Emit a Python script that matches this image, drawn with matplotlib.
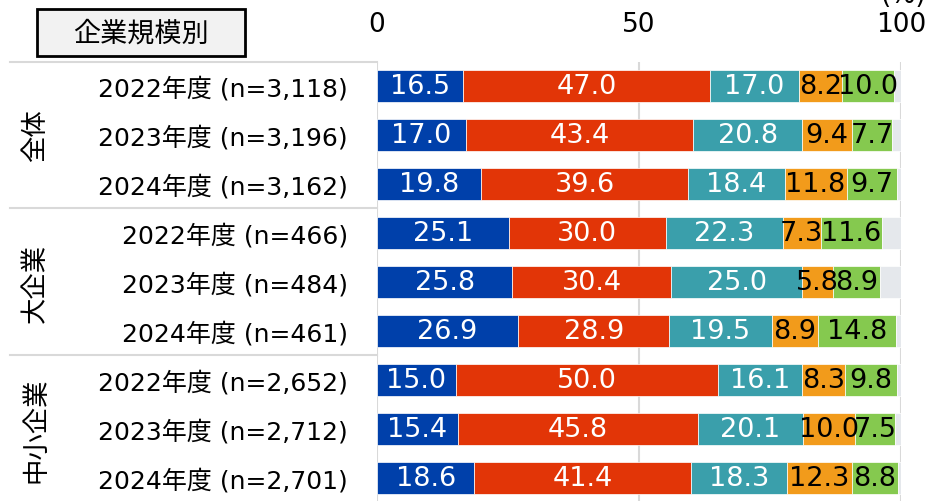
import matplotlib
matplotlib.use("Agg")
import matplotlib.pyplot as plt
from matplotlib.patches import Rectangle
from matplotlib.transforms import blended_transform_factory

plt.rcParams['font.family'] = ['DejaVu Sans', 'Noto Sans CJK JP']

# ---- data ----
groups = ["全体", "大企業", "中小企業"]
row_labels = [
    "2022年度 (n=3,118)", "2023年度 (n=3,196)", "2024年度 (n=3,162)",
    "2022年度 (n=466)", "2023年度 (n=484)", "2024年度 (n=461)",
    "2022年度 (n=2,652)", "2023年度 (n=2,712)", "2024年度 (n=2,701)",
]
seg1 = [16.5, 17.0, 19.8, 25.1, 25.8, 26.9, 15.0, 15.4, 18.6]
seg2 = [47.0, 43.4, 39.6, 30.0, 30.4, 28.9, 50.0, 45.8, 41.4]
seg3 = [17.0, 20.8, 18.4, 22.3, 25.0, 19.5, 16.1, 20.1, 18.3]
seg4 = [8.2, 9.4, 11.8, 7.3, 5.8, 8.9, 8.3, 10.0, 12.3]
seg5 = [10.0, 7.7, 9.7, 11.6, 8.9, 14.8, 9.8, 7.5, 8.8]
seg_rest = [1.3, 1.7, 0.7, 3.7, 4.1, 1.0, 0.8, 1.2, 0.6]
x_ticks = [0, 50, 100]

series = [seg1, seg2, seg3, seg4, seg5, seg_rest]
colors = ["#0040aa", "#e23507", "#3a9fab", "#f29b1b", "#85c94f", "#e5e8ec"]
label_colors = ["white", "white", "white", "black", "black", None]

W, H = 931, 502
fig = plt.figure(figsize=(W / 100, H / 100), dpi=100)
ax = fig.add_axes([377 / W, 0, 524 / W, 1 - 63 / H])

ypos = list(range(len(row_labels)))
left = [0.0] * len(ypos)
for vals, col, lc in zip(series, colors, label_colors):
    ax.barh(ypos, vals, left=left, height=0.65, color=col,
            edgecolor="white", linewidth=0.5, zorder=3)
    if lc is not None:
        for y, v, l in zip(ypos, vals, left):
            ax.text(l + v / 2, y, f"{v:.1f}", ha="center", va="center",
                    color=lc, fontsize=19.5, zorder=4)
    left = [a + b for a, b in zip(left, vals)]

ax.set_xlim(0, 100)
ax.set_ylim(8.47, -0.49)
ax.set_xticks(x_ticks)
ax.xaxis.tick_top()
ax.tick_params(axis="x", length=0, pad=18, labelsize=19)
ax.set_yticks(ypos)
ax.set_yticklabels(row_labels)
ax.tick_params(axis="y", length=0, pad=21, labelsize=18)
for s in ax.spines.values():
    s.set_visible(False)
for xv in x_ticks:
    ax.axvline(xv, color="#d9d9d9", linewidth=1.5, zorder=1)

# group separators and group names in the left margin
tr = blended_transform_factory(fig.transFigure, ax.transData)
for yb in [-0.49, 2.5, 5.5]:
    ax.plot([10 / W, 377 / W], [yb, yb], transform=tr, color="#d9d9d9",
            linewidth=1.5, clip_on=False, zorder=1)
for gi, g in enumerate(groups):
    ax.text(36 / W, gi * 3 + 1, g, transform=tr, rotation=90,
            ha="center", va="center", fontsize=19, clip_on=False)

# header box
fig.patches.append(Rectangle((37 / W, 1 - 57 / H), 208 / W, 47 / H,
                             transform=fig.transFigure, facecolor="#f2f2f2",
                             edgecolor="black", linewidth=2))
fig.text(141 / W, 1 - 35 / H, "企業規模別", ha="center", va="center",
         fontsize=19.5)
fig.text(904 / W, 1 - 3 / H, "(%)", ha="center", va="baseline", fontsize=19)

fig.savefig("out.png", dpi=100)
